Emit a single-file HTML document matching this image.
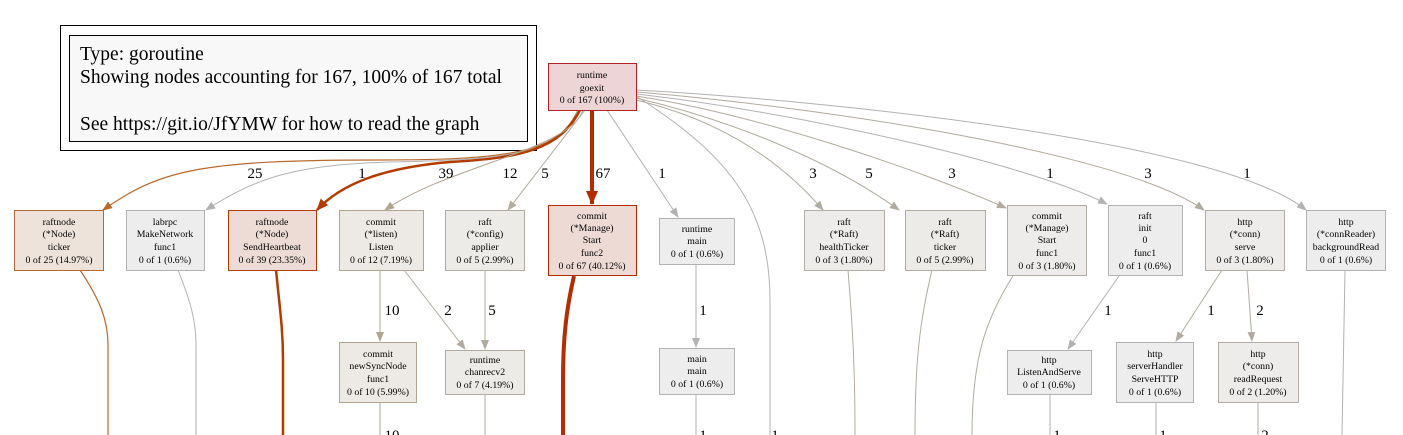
<!DOCTYPE html>
<html><head><meta charset="utf-8"><style>
html,body{margin:0;padding:0;background:#fff;}
svg{display:block;}
text{font-family:"Liberation Serif",serif;}
.n{font-size:9.8px;text-anchor:middle;fill:#000;}
.l{font-size:15px;text-anchor:middle;fill:#000;}
</style></head><body>
<svg width="1403" height="435" viewBox="0 0 1403 435" xmlns="http://www.w3.org/2000/svg">
<defs>
<marker id="ag" markerWidth="10" markerHeight="8" refX="9" refY="4" orient="auto" markerUnits="userSpaceOnUse"><path d="M0,0L10,4L0,8z" fill="#b2b2b2"/></marker>
<marker id="at" markerWidth="10" markerHeight="8" refX="9" refY="4" orient="auto" markerUnits="userSpaceOnUse"><path d="M0,0L10,4L0,8z" fill="#b2ab9f"/></marker>
<marker id="ab" markerWidth="10" markerHeight="8" refX="9" refY="4" orient="auto" markerUnits="userSpaceOnUse"><path d="M0,0L10,4L0,8z" fill="#b2a48e"/></marker>
<marker id="ao" markerWidth="10" markerHeight="8" refX="9" refY="4" orient="auto" markerUnits="userSpaceOnUse"><path d="M0,0L10,4L0,8z" fill="#b86a2e"/></marker>
<marker id="ar" markerWidth="12" markerHeight="10" refX="11" refY="5" orient="auto" markerUnits="userSpaceOnUse"><path d="M0,0L12,5L0,10z" fill="#b23c00"/></marker>
<marker id="ar2" markerWidth="14" markerHeight="12" refX="13" refY="6" orient="auto" markerUnits="userSpaceOnUse"><path d="M0,0L14,6L0,12z" fill="#b22e00"/></marker>
</defs>

<rect x="60.5" y="25.5" width="476" height="125" fill="#fff" stroke="#000"/>
<rect x="69.5" y="35.5" width="458" height="106" fill="#f8f8f8" stroke="#000"/>
<text x="80" y="60" style="font-size:19.5px">Type: goroutine</text>
<text x="80" y="83" style="font-size:19.5px">Showing nodes accounting for 167, 100% of 167 total</text>
<text x="80" y="130" style="font-size:19.5px">See https://git.io/JfYMW for how to read the graph</text>

<g fill="none">
<path d="M578,110 C560,150 520,160 380,160 C200,160 160,170 103,210" stroke="#b86a2e" stroke-width="1.2" marker-end="url(#ao)"/>
<path d="M578,110 C565,150 520,160 390,162 C300,165 260,175 206,210" stroke="#b2b2b2" marker-end="url(#ag)"/>
<path d="M580,110 C560,150 520,158 450,162 C380,168 340,185 317,210" stroke="#b23c00" stroke-width="2.5" marker-end="url(#ar)"/>
<path d="M583,110 C570,150 450,165 385,210" stroke="#b2a48e" marker-end="url(#ab)"/>
<path d="M585,110 L508,210" stroke="#b2ab9f" marker-end="url(#at)"/>
<path d="M592,110 L592,204" stroke="#b22e00" stroke-width="4" marker-end="url(#ar2)"/>
<path d="M607,110 L678,217" stroke="#b2b2b2" marker-end="url(#ag)"/>
<path d="M636,96 C720,150 770,200 770,300 L770,435" stroke="#b2b2b2"/>
<path d="M636,100 C720,120 780,160 823,210" stroke="#b2ab9f" marker-end="url(#at)"/>
<path d="M636,98 C730,120 830,160 899,210" stroke="#b2ab9f" marker-end="url(#at)"/>
<path d="M636,96 C760,115 920,170 1006,208" stroke="#b2ab9f" marker-end="url(#at)"/>
<path d="M636,94 C780,110 1020,160 1107,204" stroke="#b2b2b2" marker-end="url(#ag)"/>
<path d="M636,92 C800,105 1120,150 1204,210" stroke="#b2ab9f" marker-end="url(#at)"/>
<path d="M636,90 C820,100 1220,140 1306,210" stroke="#b2b2b2" marker-end="url(#ag)"/>
</g>
<g fill="none">
<path d="M80,270 C100,300 108,320 108,345 L108,435" stroke="#b86a2e" stroke-width="1.2"/>
<path d="M178,270 C190,300 196,320 196,345 L196,435" stroke="#b2b2b2"/>
<path d="M276,270 C280,310 283,330 283,360 L283,435" stroke="#b23c00" stroke-width="2.5"/>
<path d="M574,276 C566,310 563,340 563,380 L563,435" stroke="#b22e00" stroke-width="4"/>
<path d="M380,270 L380,341" stroke="#b2a48e" marker-end="url(#ab)"/>
<path d="M404,270 L465,349" stroke="#b2ab9f" marker-end="url(#at)"/>
<path d="M485,270 L485,349" stroke="#b2ab9f" marker-end="url(#at)"/>
<path d="M380,402 L380,435" stroke="#b2a48e"/>
<path d="M485,394 L485,435" stroke="#b2ab9f"/>
<path d="M696,264 L696,347" stroke="#b2b2b2" marker-end="url(#ag)"/>
<path d="M696,394 L696,435" stroke="#b2b2b2"/>
<path d="M848,270 C852,320 855,360 855,435" stroke="#b2ab9f"/>
<path d="M932,270 C920,320 915,360 915,435" stroke="#b2ab9f"/>
<path d="M1013,276 C985,320 972,360 972,435" stroke="#b2ab9f"/>
<path d="M1119,276 L1068,349" stroke="#b2b2b2" marker-end="url(#ag)"/>
<path d="M1050,394 L1050,435" stroke="#b2b2b2"/>
<path d="M1222,270 L1176,341" stroke="#b2ab9f" marker-end="url(#at)"/>
<path d="M1247,270 L1252,341" stroke="#b2ab9f" marker-end="url(#at)"/>
<path d="M1156,402 L1156,435" stroke="#b2b2b2"/>
<path d="M1258,402 L1258,435" stroke="#b2ab9f"/>
<path d="M1345,270 L1342,435" stroke="#b2b2b2"/>
</g>

<g>
<text x="255" y="178" class="l">25</text>
<text x="362" y="178" class="l">1</text>
<text x="446" y="178" class="l">39</text>
<text x="510" y="178" class="l">12</text>
<text x="545" y="178" class="l">5</text>
<text x="603" y="178" class="l">67</text>
<text x="662" y="178" class="l">1</text>
<text x="813" y="178" class="l">3</text>
<text x="869" y="178" class="l">5</text>
<text x="952" y="178" class="l">3</text>
<text x="1050" y="178" class="l">1</text>
<text x="1148" y="178" class="l">3</text>
<text x="1247" y="178" class="l">1</text>
<text x="392" y="315" class="l">10</text>
<text x="448" y="315" class="l">2</text>
<text x="492" y="315" class="l">5</text>
<text x="703" y="315" class="l">1</text>
<text x="1108" y="315" class="l">1</text>
<text x="1211" y="315" class="l">1</text>
<text x="1260" y="315" class="l">2</text>
<text x="392" y="440" class="l">10</text>
<text x="703" y="440" class="l">1</text>
<text x="775" y="440" class="l">1</text>
<text x="1057" y="440" class="l">1</text>
<text x="1163" y="440" class="l">1</text>
<text x="1265" y="440" class="l">2</text>
</g>

<rect x="548.5" y="63.5" width="88" height="47" fill="#edd5d5" stroke="#b22222"/>
<text class="n" x="592" y="78">runtime</text><text class="n" x="592" y="91">goexit</text><text class="n" x="592" y="103">0 of 167 (100%)</text>

<rect x="14.5" y="210.5" width="89" height="60" fill="#ede3da" stroke="#b86a2e"/>
<text class="n" x="59" y="225">raftnode</text><text class="n" x="59" y="237">(*Node)</text><text class="n" x="59" y="250">ticker</text><text class="n" x="59" y="263">0 of 25 (14.97%)</text>

<rect x="126.5" y="210.5" width="78" height="60" fill="#ededed" stroke="#b2b2b2"/>
<text class="n" x="165" y="225">labrpc</text><text class="n" x="165" y="237">MakeNetwork</text><text class="n" x="165" y="250">func1</text><text class="n" x="165" y="263">0 of 1 (0.6%)</text>

<rect x="228.5" y="210.5" width="88" height="60" fill="#eddcd5" stroke="#b23c00"/>
<text class="n" x="272" y="225">raftnode</text><text class="n" x="272" y="237">(*Node)</text><text class="n" x="272" y="250">SendHeartbeat</text><text class="n" x="272" y="263">0 of 39 (23.35%)</text>

<rect x="339.5" y="210.5" width="84" height="60" fill="#ede9e4" stroke="#b2a48e"/>
<text class="n" x="381" y="225">commit</text><text class="n" x="381" y="237">(*listen)</text><text class="n" x="381" y="250">Listen</text><text class="n" x="381" y="263">0 of 12 (7.19%)</text>

<rect x="445.5" y="210.5" width="79" height="60" fill="#edebe8" stroke="#b2ab9f"/>
<text class="n" x="485" y="225">raft</text><text class="n" x="485" y="237">(*config)</text><text class="n" x="485" y="250">applier</text><text class="n" x="485" y="263">0 of 5 (2.99%)</text>

<rect x="548.5" y="205.5" width="88" height="70" fill="#eddad5" stroke="#b22e00"/>
<text class="n" x="592" y="219">commit</text><text class="n" x="592" y="231">(*Manage)</text><text class="n" x="592" y="243">Start</text><text class="n" x="592" y="256">func2</text><text class="n" x="592" y="269">0 of 67 (40.12%)</text>

<rect x="659.5" y="218.5" width="75" height="46" fill="#ededed" stroke="#b2b2b2"/>
<text class="n" x="697" y="232">runtime</text><text class="n" x="697" y="244">main</text><text class="n" x="697" y="257">0 of 1 (0.6%)</text>

<rect x="804.5" y="210.5" width="80" height="60" fill="#edecea" stroke="#b2aea5"/>
<text class="n" x="844" y="225">raft</text><text class="n" x="844" y="237">(*Raft)</text><text class="n" x="844" y="250">healthTicker</text><text class="n" x="844" y="263">0 of 3 (1.80%)</text>

<rect x="905.5" y="210.5" width="80" height="60" fill="#edebe8" stroke="#b2ab9f"/>
<text class="n" x="945" y="225">raft</text><text class="n" x="945" y="237">(*Raft)</text><text class="n" x="945" y="250">ticker</text><text class="n" x="945" y="263">0 of 5 (2.99%)</text>

<rect x="1007.5" y="205.5" width="79" height="70" fill="#edecea" stroke="#b2aea5"/>
<text class="n" x="1047" y="219">commit</text><text class="n" x="1047" y="231">(*Manage)</text><text class="n" x="1047" y="243">Start</text><text class="n" x="1047" y="256">func1</text><text class="n" x="1047" y="269">0 of 3 (1.80%)</text>

<rect x="1108.5" y="205.5" width="74" height="70" fill="#ededed" stroke="#b2b2b2"/>
<text class="n" x="1145" y="219">raft</text><text class="n" x="1145" y="231">init</text><text class="n" x="1145" y="243">0</text><text class="n" x="1145" y="256">func1</text><text class="n" x="1145" y="269">0 of 1 (0.6%)</text>

<rect x="1205.5" y="210.5" width="79" height="60" fill="#edecea" stroke="#b2aea5"/>
<text class="n" x="1245" y="225">http</text><text class="n" x="1245" y="237">(*conn)</text><text class="n" x="1245" y="250">serve</text><text class="n" x="1245" y="263">0 of 3 (1.80%)</text>

<rect x="1306.5" y="210.5" width="79" height="60" fill="#ededed" stroke="#b2b2b2"/>
<text class="n" x="1346" y="225">http</text><text class="n" x="1346" y="237">(*connReader)</text><text class="n" x="1346" y="250">backgroundRead</text><text class="n" x="1346" y="263">0 of 1 (0.6%)</text>

<rect x="339.5" y="342.5" width="77" height="60" fill="#ede9e4" stroke="#b2a48e"/>
<text class="n" x="378" y="357">commit</text><text class="n" x="378" y="369">newSyncNode</text><text class="n" x="378" y="382">func1</text><text class="n" x="378" y="395">0 of 10 (5.99%)</text>

<rect x="445.5" y="350.5" width="79" height="44" fill="#edebe8" stroke="#b2ab9f"/>
<text class="n" x="485" y="363">runtime</text><text class="n" x="485" y="375">chanrecv2</text><text class="n" x="485" y="388">0 of 7 (4.19%)</text>

<rect x="659.5" y="348.5" width="75" height="46" fill="#ededed" stroke="#b2b2b2"/>
<text class="n" x="697" y="362">main</text><text class="n" x="697" y="374">main</text><text class="n" x="697" y="387">0 of 1 (0.6%)</text>

<rect x="1007.5" y="350.5" width="84" height="44" fill="#ededed" stroke="#b2b2b2"/>
<text class="n" x="1049" y="363">http</text><text class="n" x="1049" y="375">ListenAndServe</text><text class="n" x="1049" y="388">0 of 1 (0.6%)</text>

<rect x="1116.5" y="342.5" width="77" height="60" fill="#ededed" stroke="#b2b2b2"/>
<text class="n" x="1155" y="357">http</text><text class="n" x="1155" y="369">serverHandler</text><text class="n" x="1155" y="382">ServeHTTP</text><text class="n" x="1155" y="395">0 of 1 (0.6%)</text>

<rect x="1218.5" y="342.5" width="80" height="60" fill="#edecea" stroke="#b2aea5"/>
<text class="n" x="1258" y="357">http</text><text class="n" x="1258" y="369">(*conn)</text><text class="n" x="1258" y="382">readRequest</text><text class="n" x="1258" y="395">0 of 2 (1.20%)</text>
</svg>
</body></html>
